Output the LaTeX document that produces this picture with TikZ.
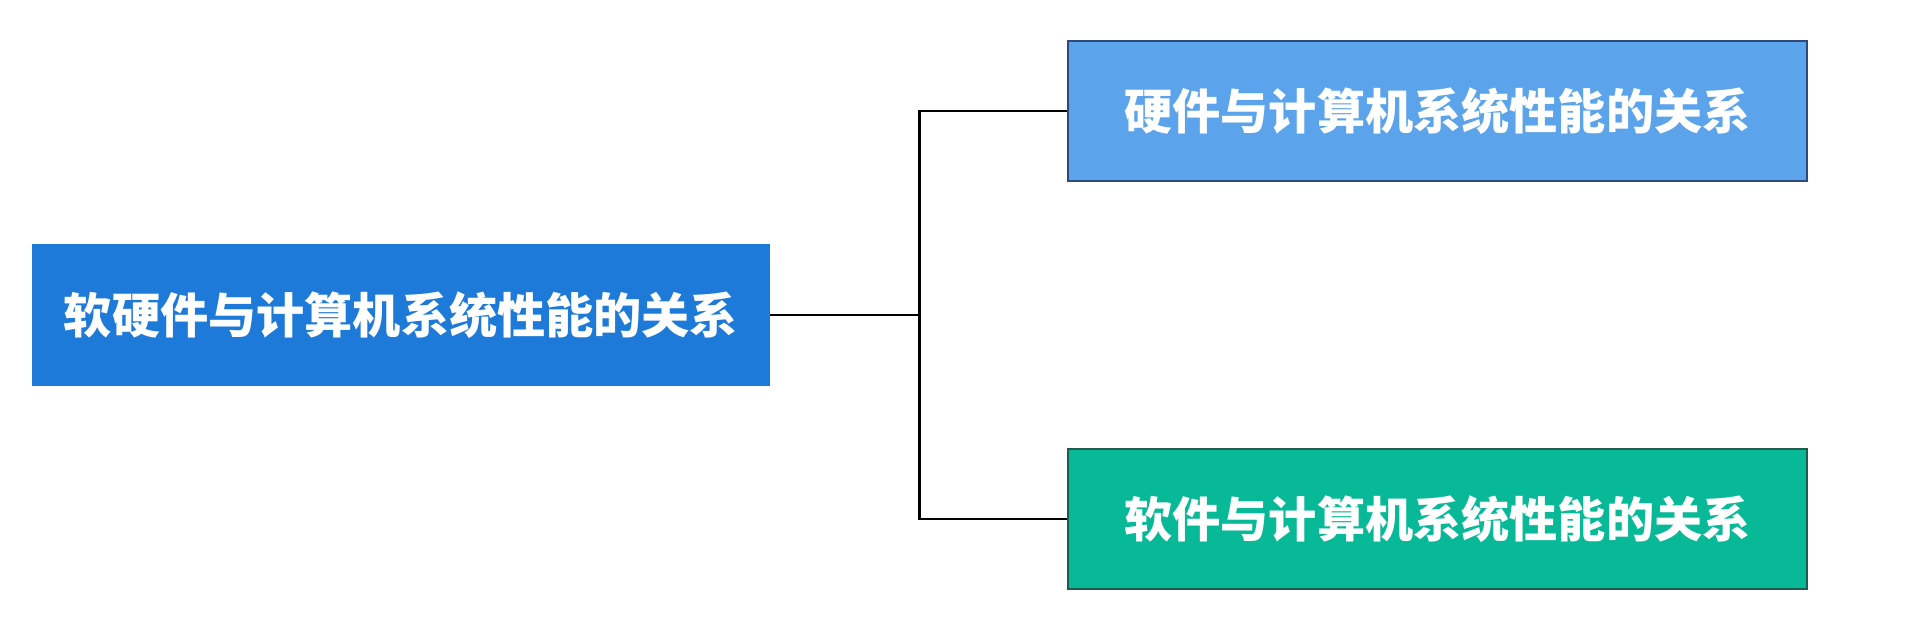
\documentclass[tikz,border=0pt]{standalone}
\usepackage{fontspec}
\newfontfamily\cjk{Noto Sans CJK SC}
\definecolor{rootblue}{HTML}{1E7AD8}
\definecolor{hwblue}{HTML}{5BA3EA}
\definecolor{hwline}{HTML}{2E4A7A}
\definecolor{swgreen}{HTML}{08B997}
\definecolor{swline}{HTML}{1F5C4E}
\begin{document}
\begin{tikzpicture}[grow'=right, level distance=20.73cm,
  level 1/.style={sibling distance=8.16cm},
  every node/.style={rectangle, minimum height=2.8cm, minimum width=14.78cm,
    inner sep=0pt, text=white, font=\cjk\bfseries\fontsize{27.4}{32}\selectfont},
  edge from parent/.style={draw, line width=1.4pt, black},
  edge from parent path={(\tikzparentnode.east) -- +(2.98cm,0) |- (\tikzchildnode.west)}]
  \useasboundingbox (0,0) rectangle (38.2,12.6);
  \node[fill=rootblue, minimum height=2.84cm, minimum width=14.76cm] (root) at (8.02,6.3) {软硬件与计算机系统性能的关系}
    child {node[fill=hwblue, draw=hwline, line width=1.1pt] (hw) {硬件与计算机系统性能的关系}}
    child {node[fill=swgreen, draw=swline, line width=1.1pt] (sw) {软件与计算机系统性能的关系}};
\end{tikzpicture}
\end{document}
